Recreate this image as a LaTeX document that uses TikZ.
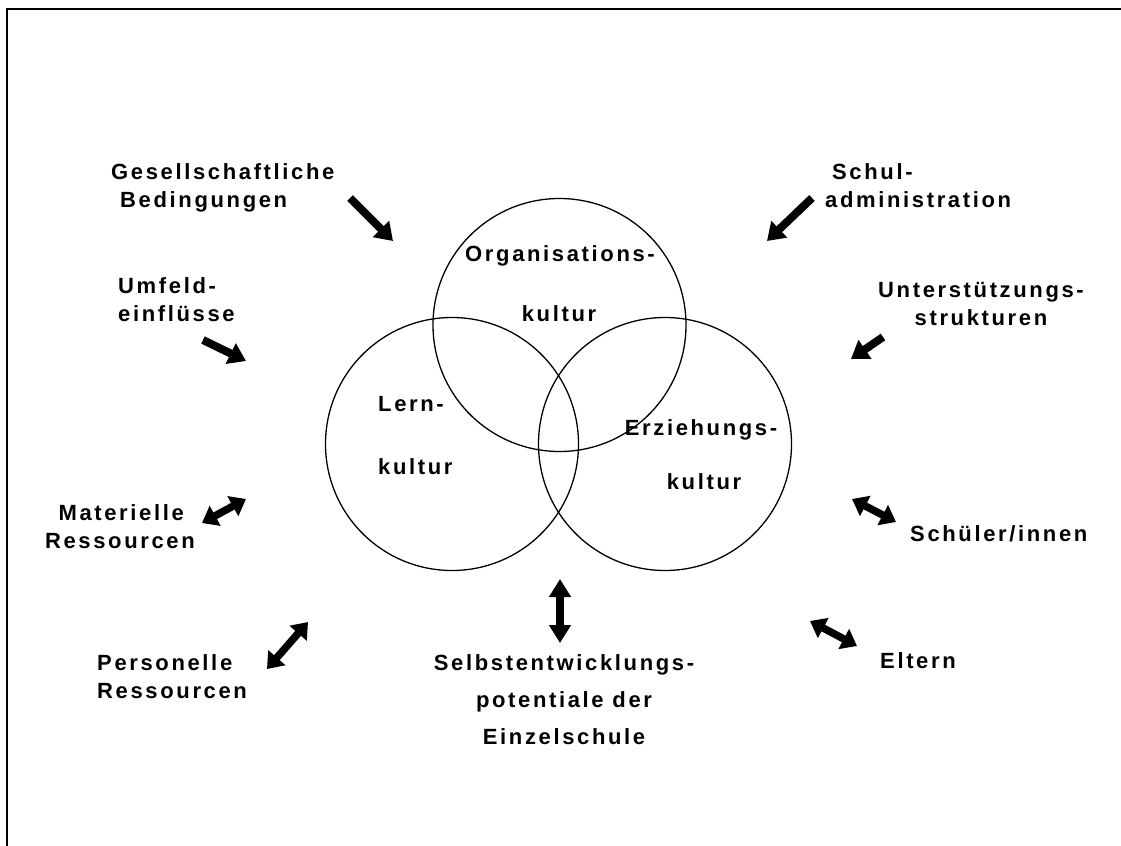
\documentclass[tikz,border=0pt]{standalone}
\usepackage{fontspec}
\newfontfamily\lbf{Liberation Sans}[LetterSpace=12]
\usetikzlibrary{arrows.meta}
\begin{document}
\begin{tikzpicture}[x=1bp,y=-1bp,
  lbl/.style={font=\lbf\bfseries\fontsize{22bp}{28bp}\selectfont, inner sep=0pt},
  ring/.style={draw, circle, line width=1.3bp, inner sep=0pt, minimum size=253bp},
  push/.style={line width=8bp, -{Triangle[length=17bp,width=22bp]}},
  swap/.style={line width=7.5bp, {Triangle[length=15bp,width=22bp]}-{Triangle[length=15bp,width=22bp]}},
  vswap/.style={line width=7.5bp, {Triangle[length=18bp,width=21bp]}-{Triangle[length=18bp,width=21bp]}},
]
\useasboundingbox (0,0) rectangle (1121,846);
\fill[white] (-10,-10) rectangle (1131,856);
% page frame (open to the right and bottom)
\draw[line width=2bp] (7,846) -- (7,9) -- (1121,9);

% the three overlapping cultures
\node[ring] (org) at (559.5,325) {};
\node[ring] (lern) at (452,444) {};
\node[ring] (erz) at (665,444) {};

\node[lbl, anchor=north] (orgA) at (560,245) {Organisations-};
\node[lbl, anchor=north] (orgB) at (559,305) {kultur};
\node[lbl, anchor=north west] (lernA) at (378,396) {Lern-};
\node[lbl, anchor=north west] (lernB) at (378,458) {kultur};
\node[lbl, anchor=north] (erzA) at (701,419) {Erziehungs-};
\node[lbl, anchor=north] (erzB) at (704,473) {kultur};

% influences around the school
\node[lbl, anchor=north west, align=left] (ges) at (111,163) {Gesellschaftliche\\\hspace*{9bp}Bedingungen};
\node[lbl, anchor=north west, align=left] (adm) at (825,163) {\hspace*{7bp}Schul-\\administration};
\node[lbl, anchor=north west, align=left] (umf) at (118,277) {Umfeld-\\einflüsse};
\node[lbl, anchor=north, align=center] (unt) at (981,282) {Unterstützungs-\\strukturen};
\node[lbl, anchor=north east, align=right] (mat) at (195,504) {Materielle\hspace*{11bp}\\Ressourcen};
\node[lbl, anchor=north west] (sch) at (910,525) {Schüler/innen};
\node[lbl, anchor=north west, align=left] (pers) at (97,654) {Personelle\\Ressourcen};
\node[lbl, anchor=north west] (elt) at (880,652) {Eltern};
\node[lbl, anchor=north, align=center, font=\lbf\bfseries\fontsize{22bp}{37bp}\selectfont] (sel) at (564,654) {Selbstentwicklungs-\\potentiale der\\Einzelschule};

% arrow end points
\coordinate (gesT) at (350,198);  \coordinate (gesH) at (393,241);
\coordinate (admT) at (812,198);  \coordinate (admH) at (767,241);
\coordinate (umfT) at (203,340);  \coordinate (umfH) at (246,361);
\coordinate (untT) at (883,337);  \coordinate (untH) at (851,359);
\coordinate (matA) at (202,523);  \coordinate (matB) at (246,499);
\coordinate (schA) at (852,499);  \coordinate (schB) at (896,522);
\coordinate (perA) at (267,669);  \coordinate (perB) at (308,622);
\coordinate (eltA) at (810,621);  \coordinate (eltB) at (857,646);
\coordinate (selA) at (560,579);  \coordinate (selB) at (560,643);

\draw[push] (gesT) -- (gesH);
\draw[push] (admT) -- (admH);
\draw[push] (umfT) -- (umfH);
\draw[push] (untT) -- (untH);
\draw[swap] (matA) -- (matB);
\draw[swap] (schA) -- (schB);
\draw[swap] (perA) -- (perB);
\draw[swap] (eltA) -- (eltB);
\draw[vswap] (selA) -- (selB);
\end{tikzpicture}
\end{document}
